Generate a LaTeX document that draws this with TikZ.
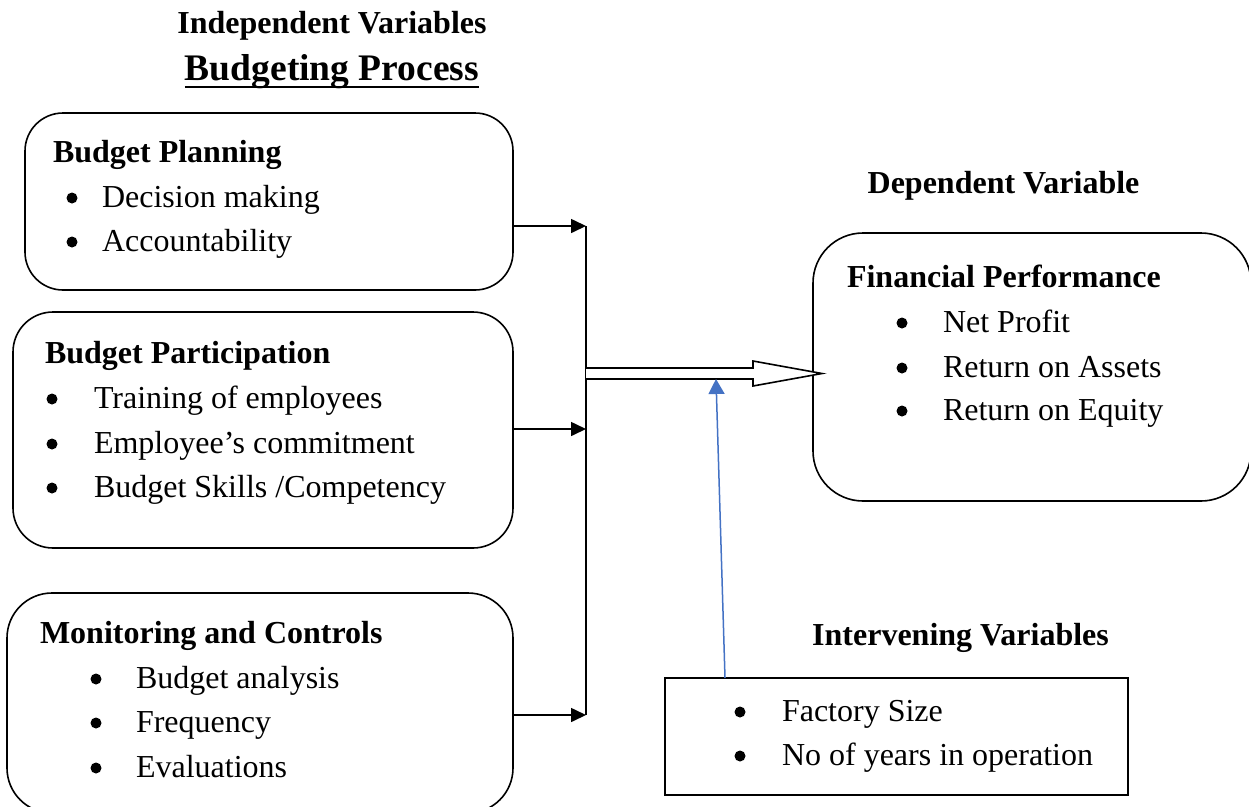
\documentclass[tikz,border=0pt]{standalone}
\usepackage{fontspec}
\setmainfont{Liberation Serif}
\usetikzlibrary{arrows.meta,calc}
\definecolor{linkblue}{RGB}{68,114,196}
\begin{document}
\begin{tikzpicture}[x=1pt,y=-1pt,
  txt/.style={inner sep=0pt, outer sep=0pt, font=\fontsize{32}{38}\selectfont},
  head/.style={inner sep=0pt, outer sep=0pt, font=\fontsize{32}{38}\selectfont\bfseries},
  item/.style={txt, anchor=base west},
  varbox/.style={draw, line width=1.6pt, inner sep=0pt, outer sep=0pt},
  feed/.style={line width=1.6pt, -{Triangle[length=15pt,width=14pt]}},
]
\useasboundingbox (0,0) rectangle (1249,806);
\clip (0,0) rectangle (1249,806);

% titles
\node[head, anchor=base] (indep) at (332,33) {Independent Variables};
\node[inner sep=0pt, outer sep=0pt, anchor=base,
      font=\fontsize{37.5}{44}\selectfont\bfseries] (process) at (332,80) {Budgeting Process};
\draw[line width=2.4pt] ($(process.base west)+(0,7)$) -- ($(process.base east)+(0,7)$);

% independent variable boxes
\node[varbox, rounded corners=38pt, minimum width=488pt, minimum height=177pt] (plan) at (269,201.5) {};
\node[varbox, rounded corners=40pt, minimum width=500pt, minimum height=236pt] (part) at (263,430) {};
\node[varbox, rounded corners=45pt, minimum width=506pt, minimum height=220pt] (mon) at (260,703) {};

\node[head, anchor=base west] (planT) at (53,162) {Budget Planning};
\node[item] (plan1) at (102,207) {Decision making};
\node[item] (plan2) at (102,251) {Accountability};
\fill (72,198) circle (5.5pt) (72,242) circle (5.5pt);

\node[head, anchor=base west] (partT) at (45,363) {Budget Participation};
\node[item] (part1) at (94,408) {Training of employees};
\node[item] (part2) at (94,453) {Employee’s commitment};
\node[item] (part3) at (94,497) {Budget Skills /Competency};
\fill (52,399) circle (5.5pt) (52,444) circle (5.5pt) (52,488) circle (5.5pt);

\node[head, anchor=base west] (monT) at (40,643) {Monitoring and Controls};
\node[item] (mon1) at (136,688) {Budget analysis};
\node[item] (mon2) at (136,732) {Frequency};
\node[item] (mon3) at (136,777) {Evaluations};
\fill (96,679) circle (5.5pt) (96,723) circle (5.5pt) (96,768) circle (5.5pt);

% dependent variable
\node[head, anchor=base] (depT) at (1003.5,193) {Dependent Variable};
\node[varbox, rounded corners=50pt, minimum width=438pt, minimum height=268pt] (perf) at (1032,367) {};
\node[head, anchor=base west] (perfT) at (847,287) {Financial Performance};
\node[item] (perf1) at (943,332) {Net Profit};
\node[item] (perf2) at (943,377) {Return on Assets};
\node[item] (perf3) at (943,420) {Return on Equity};
\fill (902,323) circle (5.5pt) (902,368) circle (5.5pt) (902,411) circle (5.5pt);

% intervening variables
\node[head, anchor=base] (intT) at (960.5,645) {Intervening Variables};
\node[varbox, minimum width=463pt, minimum height=117pt] (interv) at (896.5,736.5) {};
\node[item] (int1) at (782,721) {Factory Size};
\node[item] (int2) at (782,765) {No of years in operation};
\fill (740,712) circle (5.5pt) (740,756) circle (5.5pt);

% collecting bus and feeder arrows
\coordinate (busA) at (586,226);
\coordinate (busB) at (586,429);
\coordinate (busC) at (586,715);
\draw[line width=1.6pt] (busA) -- (busC);
\draw[feed] (plan.east |- busA) -- (busA);
\draw[feed] (part.east |- busB) -- (busB);
\draw[feed] (mon.east |- busC) -- (busC);

% hollow arrow into the dependent variable
\draw[line width=1.6pt, fill=white, line join=miter]
  (586,368) -- (753,368) -- (753,361) -- ($(perf.west)+(9,6.5)$)
  -- (753,386) -- (753,379) -- (586,379);

% intervening influence
\coordinate (meet) at (716,379);
\draw[line width=1.5pt, draw=linkblue, fill=linkblue,
      -{Triangle[length=15pt,width=16pt]}]
  ($(interv.north west)+(60,0)$) -- (meet);
\end{tikzpicture}
\end{document}
